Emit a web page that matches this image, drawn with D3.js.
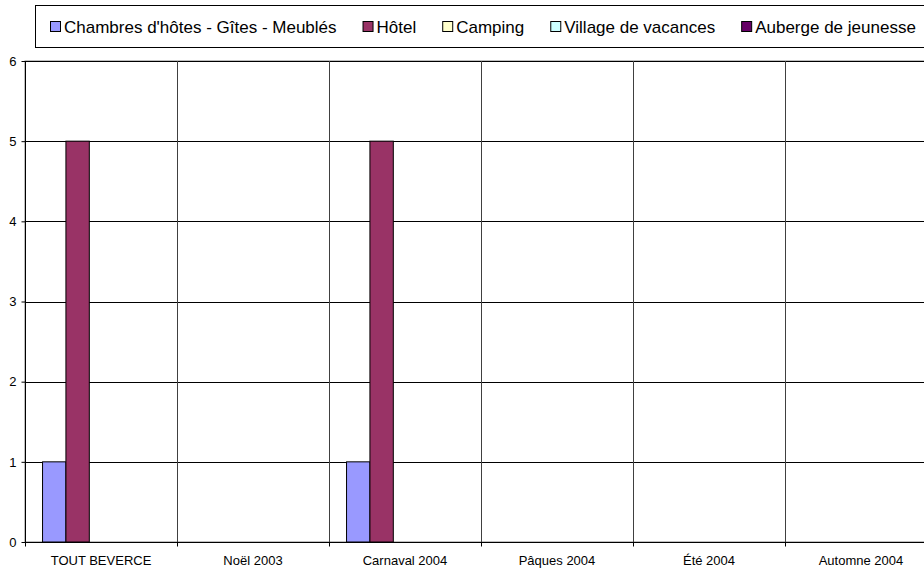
<!DOCTYPE html>
<html><head><meta charset="utf-8">
<script src="https://cdn.jsdelivr.net/npm/d3@7"></script>
<style>body{margin:0;background:#fff;overflow:hidden}svg{display:block;font-family:"Liberation Sans",Arial,sans-serif}</style>
</head><body>
<svg id="c" width="924" height="569"></svg>
<script>
const categories = ["TOUT BEVERCE","Noël 2003","Carnaval 2004","Pâques 2004","Été 2004","Automne 2004"];
const seriesNames = ["Chambres d'hôtes - Gîtes - Meublés","Hôtel","Camping","Village de vacances","Auberge de jeunesse"];
const seriesColors = ["#9999FF","#993366","#FFFFCC","#CCFFFF","#660066"];
const chambres = [1,0,1,0,0,0];
const hotel = [5,0,5,0,0,0];
const camping = [0,0,0,0,0,0];
const village = [0,0,0,0,0,0];
const auberge = [0,0,0,0,0,0];
const yTicks = [0,1,2,3,4,5,6];

const series = [chambres,hotel,camping,village,auberge];
const svg = d3.select("#c");
const L=25, R=937, T=61, B=542;
const FONT = "'Liberation Sans',Arial,sans-serif";
const x0 = d3.scaleBand().domain(categories).range([L,R]).paddingInner(0).paddingOuter(0);
const x1 = d3.scaleBand().domain(d3.range(series.length)).range([0,x0.bandwidth()]).paddingInner(0).paddingOuter(0.75);
const y = d3.scaleLinear().domain([0,6]).range([B,T]);

// plot border
svg.append("rect").attr("x",L).attr("y",T).attr("width",R-L).attr("height",B-T).attr("fill","none").attr("stroke","#808080");
// horizontal grid
svg.append("g").selectAll("line").data(yTicks.slice(1)).join("line")
  .attr("x1",L).attr("x2",R).attr("y1",d=>Math.round(y(d))+0.5).attr("y2",d=>Math.round(y(d))+0.5)
  .attr("stroke","#000").attr("stroke-width",1);
// vertical grid
svg.append("g").selectAll("line").data(categories.slice(1)).join("line")
  .attr("x1",d=>Math.round(x0(d))+0.5).attr("x2",d=>Math.round(x0(d))+0.5).attr("y1",T).attr("y2",B)
  .attr("stroke","#404040").attr("stroke-width",1);

// bars
const g = svg.append("g");
categories.forEach((c,ci)=>{
  series.forEach((s,si)=>{
    if(s[ci]===0) return;
    g.append("rect").attr("x",x0(c)+x1(si)).attr("width",x1.bandwidth())
      .attr("y",y(s[ci])).attr("height",y(0)-y(s[ci]))
      .attr("fill",seriesColors[si]).attr("stroke","#000").attr("stroke-width",1);
  });
});

// y axis
const ya = svg.append("g").attr("transform",`translate(${L+0.5},0)`)
  .call(d3.axisLeft(y).tickValues(yTicks).tickSize(4).tickPadding(5).tickFormat(d3.format("d")));
ya.select(".domain").attr("stroke","#000").attr("d",`M0,${T}V${B}`);
ya.selectAll(".tick line").attr("stroke","#000");
ya.selectAll("text").attr("font-size","13px").attr("fill","#000").style("font-family",FONT);

// x axis
const tickPos = categories.map(c=>x0(c)).concat([R]);
const xa = svg.append("g").attr("transform",`translate(0,${B+0.5})`);
xa.append("line").attr("x1",L).attr("x2",R).attr("stroke","#000");
xa.selectAll(".tk").data(tickPos).join("line").attr("class","tk")
  .attr("x1",d=>Math.round(d)+0.5).attr("x2",d=>Math.round(d)+0.5).attr("y1",0).attr("y2",4).attr("stroke","#000");
xa.selectAll("text").data(categories).join("text")
  .attr("x",d=>x0(d)+x0.bandwidth()/2).attr("y",22).attr("text-anchor","middle")
  .attr("font-size","13px").attr("fill","#000").style("font-family",FONT).text(d=>d);

// legend
const lg = svg.append("g");
lg.append("rect").attr("x",35.5).attr("y",5.5).attr("width",950).attr("height",42).attr("fill","#fff").attr("stroke","#000");
let lx = 50;
seriesNames.forEach((n,i)=>{
  lg.append("rect").attr("x",lx+0.5).attr("y",21.5).attr("width",10).attr("height",10)
    .attr("fill",seriesColors[i]).attr("stroke","#000");
  const t = lg.append("text").attr("x",lx+14).attr("y",33).attr("font-size","17px").attr("fill","#000").style("font-family",FONT).text(n);
  lx = lx + 14 + t.node().getComputedTextLength() + 26;
});
</script>
</body></html>
